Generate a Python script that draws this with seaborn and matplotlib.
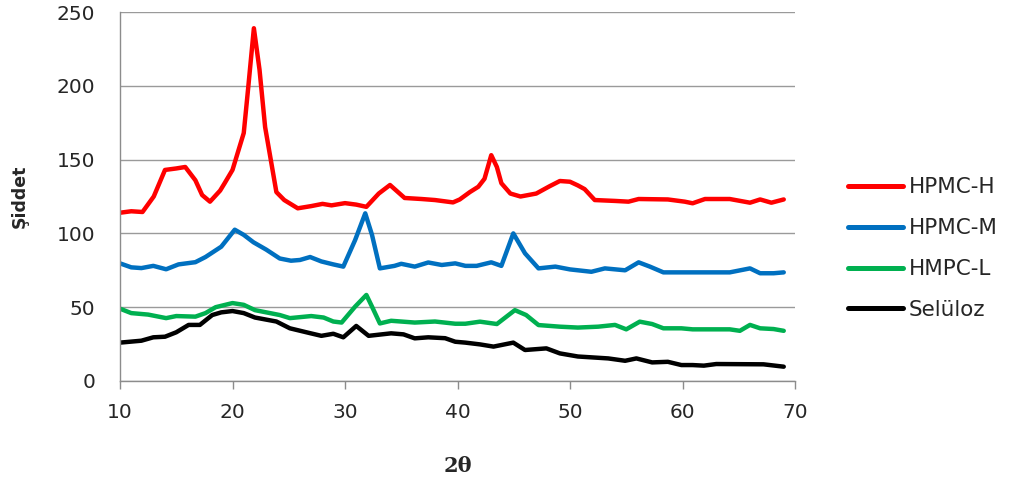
import numpy as np
import pandas as pd
import matplotlib
matplotlib.use("Agg")
import matplotlib.pyplot as plt
import seaborn as sns

# ---- data ----
series_names = ["HPMC-H", "HPMC-M", "HMPC-L", "Selüloz"]
series_colors = ["#FF0000", "#0070C0", "#00B050", "#000000"]

hpmc_h_x = [10, 11, 12, 13, 14, 15, 15.8, 16.7, 17.3, 18, 18.9, 19.3, 20, 21, 21.4, 21.9, 22.4, 22.9,
            23.9, 24.6, 25.8, 27, 28, 28.8, 30, 31, 31.9, 33, 34, 35.3, 36.8, 38, 39.6, 40.2, 41.1,
            41.85, 42.4, 43, 43.5, 43.9, 44.7, 45.6, 47, 48.2, 49.1, 50, 50.7, 51.3, 52.2, 54, 55.2,
            56.1, 58.7, 60.2, 60.9, 62, 64.2, 66, 66.9, 67.9, 69]
hpmc_h_y = [114, 115, 114.5, 125, 143, 144, 145, 136, 126, 121.5, 129, 134, 143, 168, 199, 239, 211, 172,
            128, 122.6, 117, 118.5, 120, 119, 120.5, 119.5, 118, 127, 132.8, 124, 123.3, 122.6, 121, 123, 128,
            131.6, 137, 153, 145, 134, 127, 125, 127, 132, 135.5, 135, 132.5, 130, 122.6, 122, 121.5,
            123.3, 123, 121.5, 120.4, 123.3, 123.3, 120.8, 123, 120.8, 123]

hpmc_m_x = [10, 11, 11.9, 12.96, 14.1, 15.2, 16.7, 17.6, 19, 20.2, 21, 21.86, 23, 24.2, 25.2, 26, 26.9,
            27.9, 28.96, 29.85, 30.9, 31.8, 32.4, 33.1, 34.4, 35, 36.2, 37.4, 38.6, 39.8, 40.7, 41.7,
            43, 43.9, 44.96, 46, 47.2, 48.7, 50, 51.9, 53.1, 54.9, 56.1, 57.1, 58.3, 60.9, 64.2, 66,
            66.9, 68.1, 69]
hpmc_m_y = [79.7, 77, 76.5, 78, 75.7, 79, 80.5, 84, 91, 102.5, 99, 94, 89, 83, 81.5, 82, 84,
            81, 79, 77.5, 95.5, 113.6, 99, 76.3, 78, 79.4, 77.5, 80.3, 78.6, 79.7, 78, 78,
            80.4, 78, 100, 86.5, 76.3, 77.5, 75.6, 74, 76.3, 75, 80.4, 77.5, 73.6, 73.6, 73.6, 76.3,
            73, 73, 73.6]

hmpc_l_x = [10, 11, 12.5, 14.1, 15, 16.7, 17.6, 18.5, 20, 21, 22, 24.2, 25.1, 27, 28.1, 28.96, 29.7,
            30.9, 31.9, 32.4, 33.1, 34.1, 36.2, 38, 39.8, 40.7, 42, 43.5, 45.1, 46.1, 47.2, 49.1,
            50.7, 52.5, 54, 55, 56.2, 57.3, 58.3, 59.9, 60.9, 64.2, 65.1, 66, 66.9, 68.1, 69]
hmpc_l_y = [49, 46, 45, 42.6, 44, 43.6, 46, 50, 52.8, 51.6, 48, 44.7, 42.6, 44, 43, 40.3, 39.6,
            50.4, 58.3, 50.4, 39, 40.8, 39.6, 40.3, 38.8, 38.8, 40.2, 38.6, 48, 44.7, 37.9, 36.8,
            36.2, 36.8, 38, 35, 40.2, 38.6, 35.7, 35.7, 35, 35, 34, 38, 35.7, 35.2, 34]

seluloz_x = [10, 11.9, 12.96, 14, 15, 16.1, 17.1, 18.2, 19, 20, 21, 22, 23.9, 25.1, 26.9, 27.9, 28.96,
             29.85, 31, 32.1, 34.1, 35.2, 36.2, 37.4, 38.9, 39.8, 40.7, 42, 43.2, 44.96, 46, 47.9,
             49.1, 50.7, 53.4, 54.9, 55.9, 57.3, 58.7, 59.9, 60.9, 61.9, 63, 67.2, 69]
seluloz_y = [26, 27.3, 29.6, 30, 33, 38, 38, 44.7, 46.5, 47.4, 46, 43, 40.3, 35.7, 32.4, 30.6, 32,
             29.6, 37.3, 30.6, 32.3, 31.6, 28.9, 29.6, 29, 26.6, 26, 24.8, 23.3, 26, 21, 22.1,
             18.7, 16.6, 15.3, 13.7, 15.3, 12.6, 13, 10.8, 10.8, 10.4, 11.5, 11.3, 9.7]

x_ticks = [10, 20, 30, 40, 50, 60, 70]
y_ticks = [0, 50, 100, 150, 200, 250]
x_label = "2θ"
y_label = "Şiddet"

frames = []
for name, xs, ys in zip(series_names,
                        [hpmc_h_x, hpmc_m_x, hmpc_l_x, seluloz_x],
                        [hpmc_h_y, hpmc_m_y, hmpc_l_y, seluloz_y]):
    frames.append(pd.DataFrame({"x": xs, "y": ys, "series": name}))
df = pd.concat(frames, ignore_index=True)

sns.set_style("white")
plt.rcParams["font.family"] = ["DejaVu Sans"]

fig = plt.figure(figsize=(10.09, 4.82), dpi=100)
ax = fig.add_axes([120 / 1009, 1 - 381 / 482, (795 - 120) / 1009, (381 - 12) / 482])

sns.lineplot(data=df, x="x", y="y", hue="series", hue_order=series_names,
             palette=series_colors, sort=False, estimator=None, linewidth=3.2,
             ax=ax, legend=True)
for line in ax.get_lines():
    line.set_solid_joinstyle("round")
    line.set_solid_capstyle("round")

ax.set_xlim(10, 70)
ax.set_ylim(0, 250)
ax.set_xticks(x_ticks)
ax.set_yticks(y_ticks)
ax.yaxis.grid(True, color="#9a9a9a", linewidth=1)
ax.set_axisbelow(True)
for s in ["top", "right"]:
    ax.spines[s].set_visible(False)
for s in ["left", "bottom"]:
    ax.spines[s].set_color("#8c8c8c")
    ax.spines[s].set_linewidth(1)
ax.tick_params(axis="x", direction="out", length=6, width=1, color="#8c8c8c", pad=10,
               labelsize=14.5, labelcolor="#262626", bottom=True)
ax.tick_params(axis="y", length=0, pad=18, labelsize=14.5, labelcolor="#262626")

ax.set_xlabel(x_label, fontsize=15, fontweight="bold", family=["DejaVu Serif"], labelpad=24)
ax.set_ylabel(y_label, fontsize=12.5, fontweight="bold", labelpad=20)

leg = ax.legend(loc="upper left", bbox_to_anchor=(829 / 1009, 1 - 158 / 482),
                bbox_transform=fig.transFigure, frameon=False, fontsize=15.5,
                handlelength=2.56, handletextpad=0.25, labelspacing=0.97)
for h in leg.get_lines():
    h.set_linewidth(3.6)
for t in leg.get_texts():
    t.set_color("#262626")

fig.savefig("out.png", dpi=100)
